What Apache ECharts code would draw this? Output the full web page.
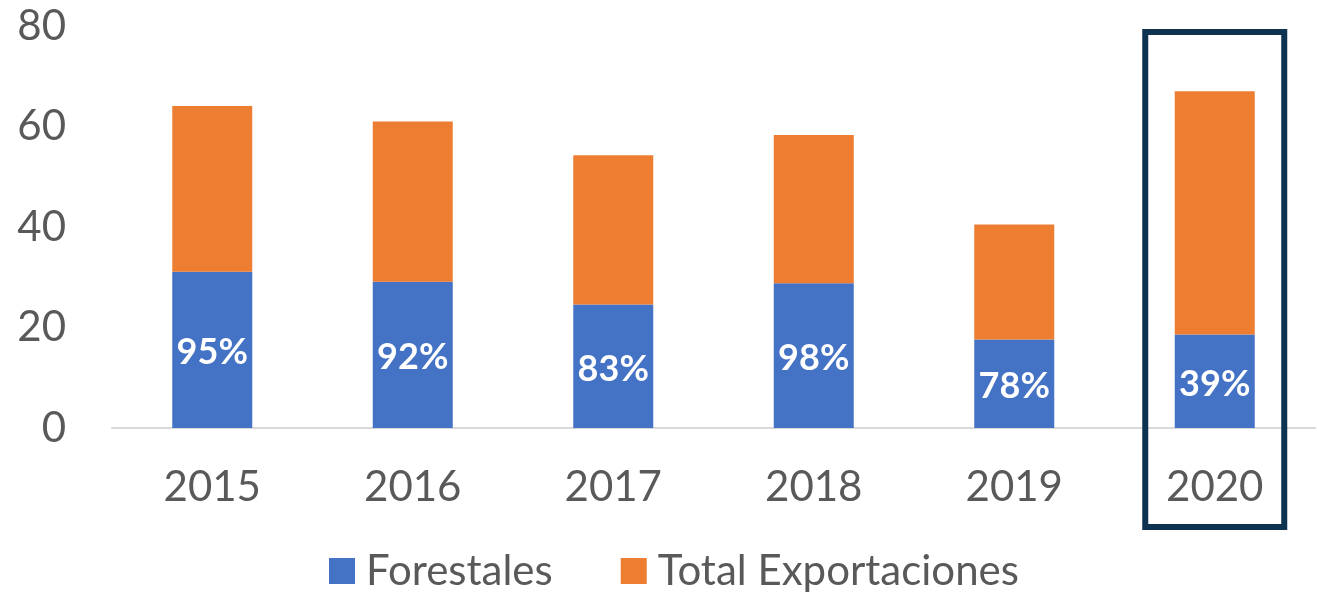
<!DOCTYPE html>
<html>
<head>
<meta charset="utf-8">
<script src="https://cdn.jsdelivr.net/npm/echarts@6/dist/echarts.min.js"></script>
<style>
  html, body { margin: 0; padding: 0; background: #fff; }
  #chart { width: 1317px; height: 593px; }
</style>
</head>
<body>
<div id="chart"></div>
<script>
// data
var years = ['2015', '2016', '2017', '2018', '2019', '2020']
var forestales = [31.1, 29.1, 24.6, 28.8, 17.6, 18.6]
var totalExport = [33.0, 31.9, 29.7, 29.5, 22.9, 48.4]
var shareLabels = ['95%', '92%', '83%', '98%', '78%', '39%']
var highlightYear = '2020'

var font = 'Lato, "Open Sans", sans-serif'
var grey = '#595959'

var chart = echarts.init(document.getElementById('chart'))

chart.setOption({
  animation: false,
  textStyle: { fontFamily: font },
  grid: {
    left: 112,
    right: 2,
    top: 26,
    bottom: 165
  },
  legend: {
    data: ['Forestales', 'Total Exportaciones'],
    left: 324,
    top: 545,
    icon: 'rect',
    itemWidth: 26,
    itemHeight: 26,
    itemGap: 68,
    textStyle: {
      fontFamily: font,
      fontSize: 42,
      color: grey,
      padding: [0, 0, 0, 6]
    }
  },
  xAxis: {
    type: 'category',
    data: years,
    axisTick: { show: false },
    axisLine: { lineStyle: { color: '#d9d9d9', width: 2 } },
    axisLabel: {
      fontFamily: font,
      fontSize: 42,
      color: grey,
      margin: 38
    }
  },
  yAxis: {
    type: 'value',
    min: 0,
    max: 80,
    interval: 20,
    splitLine: { show: false },
    axisLine: { show: false },
    axisTick: { show: false },
    axisLabel: {
      fontFamily: font,
      fontSize: 42,
      color: grey,
      margin: 46
    }
  },
  series: [
    {
      name: 'Forestales',
      type: 'bar',
      stack: 'exp',
      barWidth: 80,
      data: forestales,
      itemStyle: { color: '#4472c4' },
      label: {
        show: true,
        position: 'inside',
        offset: [0, 3],
        formatter: function(p) {
          return shareLabels[p.dataIndex]
        },
        color: '#fff',
        fontFamily: font,
        fontWeight: 'bold',
        fontSize: 36
      }
    },
    {
      name: 'Total Exportaciones',
      type: 'bar',
      stack: 'exp',
      barWidth: 80,
      data: totalExport,
      itemStyle: { color: '#ed7d31' }
    }
  ]
})

// frame around the highlighted year, placed from the axes
var cx = chart.convertToPixel({ xAxisIndex: 0 }, highlightYear)
var yTop = chart.convertToPixel({ yAxisIndex: 0 }, 80)
var yBase = chart.convertToPixel({ yAxisIndex: 0 }, 0)
var boxW = 139
chart.setOption({
  graphic: [{
    type: 'rect',
    shape: {
      x: cx - boxW / 2,
      y: yTop + 6,
      width: boxW,
      height: yBase + 99 - (yTop + 6)
    },
    style: {
      fill: 'none',
      stroke: '#0d3350',
      lineWidth: 6
    },
    z: 10
  }]
})
</script>
</body>
</html>
